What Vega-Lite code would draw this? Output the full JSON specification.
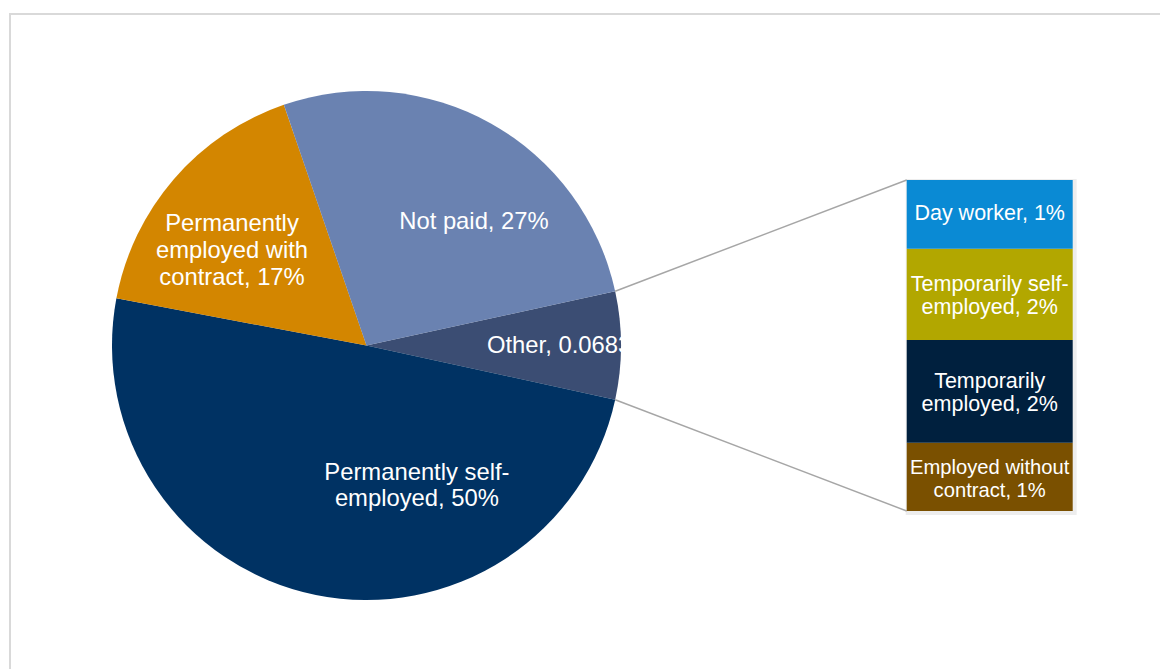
{
  "$schema": "https://vega.github.io/schema/vega-lite/v6.json",
  "width": 1160,
  "height": 669,
  "autosize": {"type": "fit", "contains": "padding"},
  "padding": {"left": 10, "top": 14, "right": -6, "bottom": -6},
  "background": "white",
  "view": {"stroke": "#D9D9D9", "strokeWidth": 2},
  "config": {"font": "Liberation Sans"},
  "datasets": {
    "pie": [
      {"category": "Other", "value": 6.83, "ord": 1, "label": "Other, 0.0683"},
      {"category": "Permanently self-employed", "value": 49.55, "ord": 2, "label": "Permanently self-\nemployed, 50%"},
      {"category": "Permanently employed with contract", "value": 16.77, "ord": 3, "label": "Permanently\nemployed with\ncontract, 17%"},
      {"category": "Not paid", "value": 26.85, "ord": 4, "label": "Not paid, 27%"}
    ],
    "bar": [
      {"category": "Employed without contract", "value": 1.41, "ord": 1, "label": "Employed without\ncontract, 1%"},
      {"category": "Temporarily employed", "value": 2.12, "ord": 2, "label": "Temporarily\nemployed, 2%"},
      {"category": "Temporarily self-employed", "value": 1.88, "ord": 3, "label": "Temporarily self-\nemployed, 2%"},
      {"category": "Day worker", "value": 1.42, "ord": 4, "label": "Day worker, 1%"}
    ]
  },
  "layer": [
    {
      "data": {"values": [{}]},
      "mark": {"type": "circle", "size": 215651, "color": "#000000", "opacity": 0.035, "xOffset": 3, "yOffset": 4},
      "encoding": {
        "x": {"datum": 0, "type": "quantitative", "scale": {"domain": [-7.356, 16.497], "nice": false, "zero": false}, "axis": null},
        "y": {"datum": 3.415, "type": "quantitative", "scale": {"domain": [-3.384, 10.255], "nice": false, "zero": false}, "axis": null}
      }
    },
    {
      "data": {"values": [{}]},
      "mark": {"type": "circle", "size": 209117, "color": "#000000", "opacity": 0.06, "xOffset": 2, "yOffset": 3},
      "encoding": {
        "x": {"datum": 0, "type": "quantitative", "axis": null},
        "y": {"datum": 3.415, "type": "quantitative", "axis": null}
      }
    },
    {
      "data": {"values": [{}]},
      "mark": {"type": "rect", "color": "#000000", "opacity": 0.07, "xOffset": -1, "x2Offset": 4, "yOffset": 4, "y2Offset": -1},
      "encoding": {
        "x": {"datum": 11.147, "type": "quantitative", "axis": null},
        "x2": {"datum": 14.572},
        "y": {"datum": 0, "type": "quantitative", "axis": null},
        "y2": {"datum": 6.83}
      }
    },
    {
      "data": {"name": "pie"},
      "mark": {"type": "arc", "outerRadius": 254.5},
      "encoding": {
        "theta": {"field": "value", "type": "quantitative", "stack": true, "scale": {"range": [1.35623, 7.63942]}},
        "order": {"field": "ord", "type": "quantitative"},
        "color": {
          "field": "category", "type": "nominal", "legend": null,
          "scale": {
            "domain": ["Other", "Permanently self-employed", "Permanently employed with contract", "Not paid", "Employed without contract", "Temporarily employed", "Temporarily self-employed", "Day worker"],
            "range": ["#3B4D73", "#003263", "#D38600", "#6A82B1", "#7A5000", "#00203E", "#B2A700", "#0A8AD4"]
          }
        },
        "x": {"datum": 0, "type": "quantitative", "axis": null},
        "y": {"datum": 3.415, "type": "quantitative", "axis": null}
      }
    },
    {
      "data": {"values": [{}]},
      "mark": {"type": "rule", "color": "#A6A6A6", "strokeWidth": 1.5},
      "encoding": {
        "x": {"datum": 5.131, "type": "quantitative", "axis": null},
        "y": {"datum": 4.534, "type": "quantitative", "axis": null},
        "x2": {"datum": 11.147},
        "y2": {"datum": 6.83}
      }
    },
    {
      "data": {"values": [{}]},
      "mark": {"type": "rule", "color": "#A6A6A6", "strokeWidth": 1.5},
      "encoding": {
        "x": {"datum": 5.131, "type": "quantitative", "axis": null},
        "y": {"datum": 2.296, "type": "quantitative", "axis": null},
        "x2": {"datum": 11.147},
        "y2": {"datum": 0}
      }
    },
    {
      "data": {"name": "bar"},
      "transform": [
        {"stack": "value", "groupby": [], "sort": [{"field": "ord", "order": "ascending"}], "as": ["v0", "v1"]}
      ],
      "mark": {"type": "rect"},
      "encoding": {
        "x": {"datum": 11.147, "type": "quantitative", "axis": null},
        "x2": {"datum": 14.572},
        "y": {"field": "v0", "type": "quantitative", "axis": null},
        "y2": {"field": "v1"},
        "color": {"field": "category", "type": "nominal", "legend": null}
      }
    },
    {
      "data": {"name": "bar"},
      "transform": [
        {"stack": "value", "groupby": [], "sort": [{"field": "ord", "order": "ascending"}], "as": ["v0", "v1"]},
        {"fold": ["v0", "v1"], "as": ["edge", "pos"]},
        {"aggregate": [{"op": "mean", "field": "pos", "as": "mid"}], "groupby": ["category", "label"]},
        {"filter": "datum.category === 'Day worker'"}
      ],
      "mark": {"type": "text", "color": "#FFFFFF", "align": "center", "baseline": "middle", "fontSize": 21.5},
      "encoding": {
        "x": {"datum": 12.859, "type": "quantitative", "axis": null},
        "y": {"field": "mid", "type": "quantitative", "axis": null},
        "text": {"field": "label"}
      }
    },
    {
      "data": {"name": "bar"},
      "transform": [
        {"stack": "value", "groupby": [], "sort": [{"field": "ord", "order": "ascending"}], "as": ["v0", "v1"]},
        {"fold": ["v0", "v1"], "as": ["edge", "pos"]},
        {"aggregate": [{"op": "mean", "field": "pos", "as": "mid"}], "groupby": ["category", "label"]},
        {"filter": "datum.category !== 'Day worker'"}
      ],
      "mark": {"type": "text", "color": "#FFFFFF", "align": "center", "baseline": "middle", "lineBreak": "\n", "lineHeight": 23, "dy": -9},
      "encoding": {
        "x": {"datum": 12.859, "type": "quantitative", "axis": null},
        "y": {"field": "mid", "type": "quantitative", "axis": null},
        "text": {"field": "label"},
        "size": {"condition": {"test": "datum.category === 'Employed without contract'", "value": 20.2}, "value": 21.5}
      }
    },
    {
      "data": {"name": "pie"},
      "transform": [{"filter": "datum.category === 'Not paid'"}],
      "mark": {"type": "text", "color": "#FFFFFF", "align": "center", "baseline": "middle", "fontSize": 23.8},
      "encoding": {
        "x": {"datum": 2.218, "type": "quantitative", "axis": null},
        "y": {"datum": 5.963, "type": "quantitative", "axis": null},
        "text": {"field": "label"}
      }
    },
    {
      "data": {"name": "pie"},
      "transform": [{"filter": "datum.category === 'Other'"}],
      "mark": {"type": "text", "color": "#FFFFFF", "align": "left", "baseline": "middle", "fontSize": 23.8},
      "encoding": {
        "x": {"datum": 2.486, "type": "quantitative", "axis": null},
        "y": {"datum": 3.405, "type": "quantitative", "axis": null},
        "text": {"field": "label"}
      }
    },
    {
      "data": {"name": "pie"},
      "transform": [{"filter": "datum.category === 'Permanently employed with contract'"}],
      "mark": {"type": "text", "color": "#FFFFFF", "align": "center", "baseline": "middle", "fontSize": 23.8, "lineBreak": "\n", "lineHeight": 27},
      "encoding": {
        "x": {"datum": -2.775, "type": "quantitative", "axis": null},
        "y": {"datum": 5.92, "type": "quantitative", "axis": null},
        "text": {"field": "label"}
      }
    },
    {
      "data": {"name": "pie"},
      "transform": [{"filter": "datum.category === 'Permanently self-employed'"}],
      "mark": {"type": "text", "color": "#FFFFFF", "align": "center", "baseline": "middle", "fontSize": 23.8, "lineBreak": "\n", "lineHeight": 26},
      "encoding": {
        "x": {"datum": 1.04, "type": "quantitative", "axis": null},
        "y": {"datum": 0.785, "type": "quantitative", "axis": null},
        "text": {"field": "label"}
      }
    }
  ]
}
